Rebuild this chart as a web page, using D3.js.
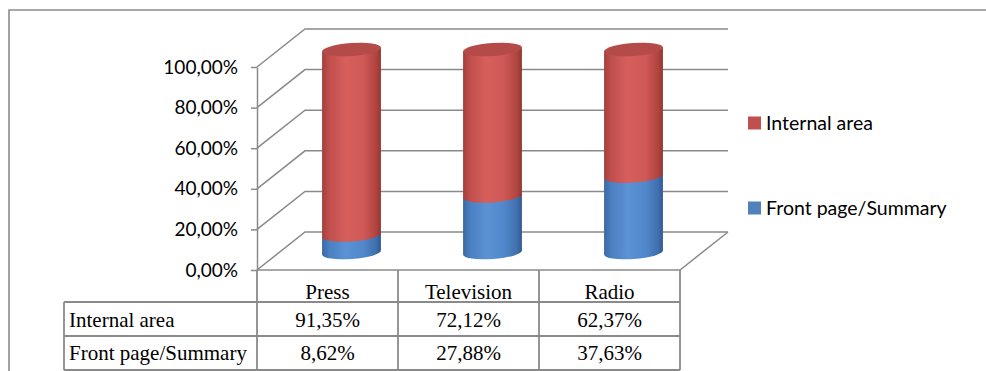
<!DOCTYPE html>
<html>
<head>
<meta charset="utf-8">
<script src="https://cdn.jsdelivr.net/npm/d3@7"></script>
<style>
  html, body { margin: 0; padding: 0; background: #fff; }
  svg { display: block; }
</style>
</head>
<body>
<svg id="chart" width="986" height="371"></svg>
<script>
// data
var categories = ["Press", "Television", "Radio"];
var seriesNames = ["Internal area", "Front page/Summary"];
var internalArea = [91.35, 72.12, 62.37];
var frontPage = [8.62, 27.88, 37.63];
var yTicks = [0, 20, 40, 60, 80, 100];

var fmt = function(d){ return d.toFixed(2).replace(".", ",") + "%"; };

var svg = d3.select("#chart");
var gridColor = "#8a8a8a";

// depth of the 3d box
var depthX = 48, depthY = -38;

//================= scales =====================//
var x = d3.scaleBand().domain(categories).range([257, 680]).padding(0);
var y = d3.scaleLinear().domain([0, 100]).range([270, 67]);

var color = d3.scaleOrdinal().domain(seriesNames).range(["#C0504D", "#4F81BD"]);

// gradients for the cylinders
var defs = svg.append("defs");
function addGrad(id, stops){
  var g = defs.append("linearGradient").attr("id", id)
      .attr("x1", "0%").attr("x2", "100%").attr("y1", "0%").attr("y2", "0%");
  stops.forEach(function(s){
    g.append("stop").attr("offset", s[0]).attr("stop-color", s[1]);
  });
}
addGrad("redGrad", [["0%", "#a33f3c"], ["12%", "#c04f4c"], ["40%", "#d65f5c"], ["70%", "#cf5956"], ["92%", "#b0443f"], ["100%", "#923633"]]);
addGrad("blueGrad", [["0%", "#3b68a3"], ["12%", "#4a7fc2"], ["40%", "#5b92d4"], ["70%", "#5188cb"], ["92%", "#3f6fae"], ["100%", "#33598f"]]);
var gradFor = {"Internal area": "url(#redGrad)", "Front page/Summary": "url(#blueGrad)"};
var capFor = {"Internal area": "#b54b48", "Front page/Summary": "#4778b5"};

//================= frame ======================//
svg.append("path")
   .attr("d", "M9,371 L9,10 L986,10")
   .attr("fill", "none").attr("stroke", "#8c8c8c").attr("stroke-width", 1.6);

//================= walls & grid ===============//
var grid = svg.append("g").attr("class", "grid");
grid.selectAll("path.gl")
    .data(yTicks)
    .enter()
    .append("path")
    .attr("class", "gl")
    .attr("d", function(d){
      var y0 = y(d);
      return "M" + x.range()[0] + "," + y0 +
             " L" + (x.range()[0] + depthX) + "," + (y0 + depthY) +
             " L" + (x.range()[1] + depthX) + "," + (y0 + depthY);
    })
    .attr("fill", "none").attr("stroke", gridColor).attr("stroke-width", 1.5);

// floor
grid.append("path")
    .attr("d", "M" + x.range()[0] + "," + y(0) + " L" + x.range()[1] + "," + y(0) +
               " L" + (x.range()[1] + depthX) + "," + (y(0) + depthY))
    .attr("fill", "none").attr("stroke", gridColor).attr("stroke-width", 1.5);

//================= y axis =====================//
var yAxis = svg.append("g")
    .attr("class", "axis y-axis")
    .attr("transform", "translate(" + x.range()[0] + ",0)")
    .call(d3.axisLeft(y).tickValues(yTicks).tickSize(6).tickSizeOuter(0).tickPadding(13).tickFormat(fmt));
yAxis.select(".domain").attr("stroke", gridColor).attr("stroke-width", 1.5);
yAxis.selectAll(".tick line").attr("stroke", gridColor).attr("stroke-width", 1.5);
yAxis.selectAll(".tick text")
     .attr("fill", "#000")
     .style("font-family", "Lato, 'Open Sans', sans-serif")
     .style("font-size", "19px");

//================= cylinders ==================//
var rx = 29.5, ry = 6.5, tilt = -4;
var th = tilt * Math.PI / 180;
var ex = rx * Math.cos(th), ey = rx * Math.sin(th);

function cy(v){ return y(v) + depthY / 2 + 1.5; }

var stacks = categories.map(function(c, i){
  return {cat: c, parts: [
    {name: "Front page/Summary", v0: 0, v1: frontPage[i]},
    {name: "Internal area", v0: frontPage[i], v1: frontPage[i] + internalArea[i]}
  ]};
});

var bars = svg.append("g").attr("class", "bars");
stacks.forEach(function(s){
  var cx = x(s.cat) + x.bandwidth() / 2 + depthX / 2;
  s.parts.forEach(function(p, j){
    var yb = cy(p.v0), yt = cy(p.v1);
    var d = "M" + (cx - ex) + "," + (yt - ey) +
            " L" + (cx - ex) + "," + (yb - ey) +
            " A" + rx + "," + ry + " " + tilt + " 0 0 " + (cx + ex) + "," + (yb + ey) +
            " L" + (cx + ex) + "," + (yt + ey) + " Z";
    bars.append("path")
        .attr("d", d)
        .attr("fill", gradFor[p.name]);
    if (j === s.parts.length - 1) {
      bars.append("ellipse")
          .attr("cx", cx).attr("cy", yt)
          .attr("rx", rx).attr("ry", ry)
          .attr("transform", "rotate(" + tilt + "," + cx + "," + yt + ")")
          .attr("fill", capFor[p.name]);
    }
  });
});

//================= legend =====================//
var legendY = [123, 208];
var legendOrder = ["Internal area", "Front page/Summary"];
var legend = svg.append("g").attr("class", "legend");
legend.selectAll("rect")
  .data(legendOrder)
  .enter()
  .append("rect")
    .attr("x", 748)
    .attr("y", function(d, i){ return legendY[i] - 6.5; })
    .attr("width", 13).attr("height", 13)
    .attr("fill", function(d){ return color(d); });
legend.selectAll("text")
  .data(legendOrder)
  .enter()
  .append("text")
    .attr("x", 766)
    .attr("y", function(d, i){ return legendY[i]; })
    .attr("dy", "0.35em")
    .style("font-family", "Lato, 'Open Sans', sans-serif")
    .style("font-size", "19.5px")
    .attr("fill", "#000")
    .text(function(d){ return d; });

//================= data table =================//
var tbl = svg.append("g").attr("class", "table");
var rowY = [270, 302, 336, 370];
var labelLeft = 64;
var lineStyle = function(sel){ sel.attr("stroke", "#8a8a8a").attr("stroke-width", 1.8).attr("fill", "none"); };

// horizontal lines
[1, 2, 3].forEach(function(r){
  tbl.append("line").attr("x1", labelLeft).attr("x2", x.range()[1])
     .attr("y1", rowY[r]).attr("y2", rowY[r]).call(lineStyle);
});
// left edge of the label column
tbl.append("line").attr("x1", labelLeft).attr("x2", labelLeft)
   .attr("y1", rowY[1]).attr("y2", rowY[3]).call(lineStyle);
// column separators
var colEdges = categories.map(function(c){ return x(c); }).concat([x.range()[1]]);
tbl.selectAll("line.col")
   .data(colEdges)
   .enter()
   .append("line")
   .attr("class", "col")
   .attr("x1", function(d){ return d; }).attr("x2", function(d){ return d; })
   .attr("y1", rowY[0]).attr("y2", rowY[3])
   .call(lineStyle);

var serif = "'Liberation Serif', 'Times New Roman', serif";
var baseY = [299, 327, 360];

tbl.selectAll("text.head")
   .data(categories)
   .enter()
   .append("text")
   .attr("class", "head")
   .attr("x", function(d){ return x(d) + x.bandwidth() / 2; })
   .attr("y", baseY[0])
   .attr("text-anchor", "middle")
   .style("font-family", serif).style("font-size", "21px")
   .text(function(d){ return d; });

var rows = [
  {name: "Internal area", values: internalArea},
  {name: "Front page/Summary", values: frontPage}
];
rows.forEach(function(r, i){
  tbl.append("text")
     .attr("x", labelLeft + 5)
     .attr("y", baseY[i + 1])
     .style("font-family", serif).style("font-size", "21px")
     .text(r.name);
  tbl.selectAll("text.v" + i)
     .data(r.values)
     .enter()
     .append("text")
     .attr("class", "v" + i)
     .attr("x", function(d, k){ return x(categories[k]) + x.bandwidth() / 2; })
     .attr("y", baseY[i + 1])
     .attr("text-anchor", "middle")
     .style("font-family", serif).style("font-size", "21px")
     .text(function(d){ return fmt(d); });
});
</script>
</body>
</html>
